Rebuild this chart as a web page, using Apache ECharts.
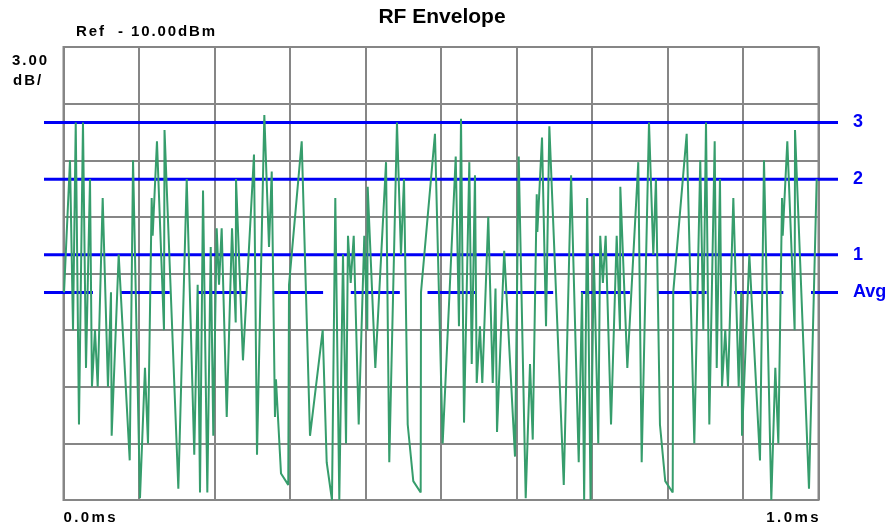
<!DOCTYPE html>
<html>
<head>
<meta charset="utf-8">
<script src="https://cdn.jsdelivr.net/npm/echarts@6/dist/echarts.min.js"></script>
<style>
html,body{margin:0;padding:0;background:#fff;}
#c{width:886px;height:527px;}
</style>
</head>
<body>
<div id="c"></div>
<script>
// ---- data (time in microseconds, level in dBm) ----
const timesUs = [
  0.7, 8.6, 12.6, 16.2, 20.5, 25.8, 29.8, 35.1, 37.7, 41.7,
  45.3, 51.9, 58.9, 62.9, 63.8, 73.1, 87.7, 92.1, 101.3, 107.9,
  111.9, 116.8, 118.1, 123.8, 133.1, 133.8, 152.1, 163.2, 173.2, 177.7,
  180.8, 184.8, 190.5, 195.0, 198.4, 202.9, 206.0, 209.5, 216.2, 223.2,
  228.1, 228.5, 237.7, 252.3, 256.3, 266.0,
  272.2, 275.8, 280.1, 281.4, 288.1, 297.7, 298.7, 315.5, 326.5, 343.3,
  348.6, 355.6, 360.0, 365.3, 370.2, 374.2, 376.8, 380.4, 384.4, 391.0,
  398.4, 402.4, 402.9, 413.0, 427.2, 431.5, 441.7, 447.0, 451.0, 455.9,
  463.3, 473.1, 473.5, 492.0, 502.2, 519.5, 523.8, 526.5, 530.5, 537.5,
  540.7, 545.0, 547.3, 551.6, 554.7, 562.6, 568.5, 572.2, 574.2, 583.7,
  598.0, 602.9, 612.2, 617.9, 621.5, 626.8, 627.6, 633.8, 639.1, 643.5,
  662.6, 672.3, 682.4, 686.8, 689.6, 693.6, 698.1, 702.4, 708.3, 710.9,
  714.4, 718.1, 725.2, 732.7, 737.1, 737.5, 746.8, 761.3, 765.8, 775.5,
  781.2, 784.7, 790.0, 797.0, 806.9, 807.6, 825.4, 835.5,
  843.4, 847.4, 851.0, 855.4, 862.5, 865.2, 869.5, 872.2, 876.5, 880.1,
  887.2, 894.3, 897.7, 898.7, 908.4, 922.5, 927.8, 937.5, 942.8, 946.8,
  951.7, 952.6, 958.7, 968.4, 968.9, 987.4, 997.6
];
const levelsDbm = [
  -23.0, -16.0, -25.0, -14.0, -30.0, -14.0, -27.0, -17.0, -28.0, -25.0,
  -28.0, -18.0, -28.0, -23.0, -30.6, -21.0, -31.9, -16.0, -33.9, -27.0,
  -31.0, -18.0, -20.0, -15.0, -25.0, -14.4, -33.4, -17.0, -31.6, -22.6,
  -33.6, -17.6, -33.6, -20.6, -30.6, -19.6, -22.6, -19.6, -29.6, -19.6,
  -24.6, -17.0, -26.6, -15.7, -31.6, -13.6,
  -20.6, -16.6, -29.6, -27.6, -32.6, -33.2, -22.6, -15.0, -30.6, -25.0,
  -32.0, -34.0, -18.0, -34.0, -21.0, -31.0, -20.0, -22.5, -20.0, -30.0,
  -20.0, -25.0, -17.4, -27.0, -16.1, -32.0, -14.0, -21.0, -17.0, -30.0,
  -33.0, -33.6, -23.0, -14.6, -31.0, -15.8, -24.8, -13.8, -29.9, -16.1,
  -26.8, -16.8, -27.8, -24.8, -27.8, -19.0, -27.8, -22.8, -30.4, -20.8,
  -31.7, -15.8, -33.9, -26.8, -30.8, -17.8, -19.8, -14.8, -24.8, -14.2,
  -33.2, -16.8, -32.0, -23.0, -34.0, -18.0, -34.0, -21.0, -31.0, -20.0,
  -22.5, -20.0, -30.0, -20.0, -25.0, -17.4, -27.0, -16.1, -32.0, -14.0,
  -21.0, -17.0, -30.0, -33.0, -33.6, -23.0, -14.6, -31.0,
  -16.0, -25.0, -14.0, -30.0, -15.0, -27.0, -17.0, -28.0, -25.0, -28.0,
  -18.0, -28.0, -23.0, -30.6, -21.0, -31.9, -16.0, -34.0, -27.0, -31.0,
  -18.0, -20.0, -15.0, -25.0, -14.4, -33.4, -17.0
];
const markerNames = ['3', '2', '1', 'Avg'];
const markerLevels = [-14, -17, -21, -23];
const xTickLabels = ['0.0ms', '1.0ms'];
const titleText = 'RF Envelope';
const refText = 'Ref  - 10.00dBm';
const scaleText = ['3.00', 'dB/'];

// ---- chart ----
const FONT = "'Liberation Sans', Arial, Helvetica, sans-serif";
const GREEN = '#369d6c';
const BLUE = '#0000f5';
const GRID = '#868686';

function spaced(str) {
  const chars = str.split('');
  return chars.map((c, i) => '{' + (i === chars.length - 1 ? 'e' : 's') + '|' + c + '}').join('');
}
function richSpaced(size, gap) {
  return {
    s: { fontSize: size, fontWeight: 'bold', fontFamily: FONT, color: '#000', padding: [0, gap, 0, 0] },
    e: { fontSize: size, fontWeight: 'bold', fontFamily: FONT, color: '#000' }
  };
}

const trace = timesUs.map((t, i) => [t, levelsDbm[i]]);

const markerSeries = markerNames.map((name, i) => ({
  name: name,
  type: 'line',
  xAxisIndex: 1,
  yAxisIndex: 1,
  data: [[0, markerLevels[i]], [1, markerLevels[i]]],
  symbol: 'none',
  silent: true,
  z: 3,
  lineStyle: { color: BLUE, width: 3, type: name === 'Avg' ? [49, 27.7] : 'solid', cap: 'butt' },
  endLabel: {
    show: true,
    formatter: name,
    distance: 15,
    color: BLUE,
    fontSize: 18,
    fontWeight: 'bold',
    fontFamily: FONT
  }
}));

const chart = echarts.init(document.getElementById('c'), null, { renderer: 'canvas' });
chart.setOption({
  animation: false,
  backgroundColor: '#ffffff',
  grid: [
    { left: 63.5, top: 47, width: 755, height: 453, show: true, borderColor: GRID, borderWidth: 2, backgroundColor: 'transparent' },
    { left: 44, top: 47, width: 794, height: 453, show: false }
  ],
  xAxis: [
    {
      gridIndex: 0, type: 'value', min: 0, max: 1000, interval: 100,
      axisLine: { show: false }, axisTick: { show: false },
      splitLine: { show: true, lineStyle: { color: GRID, width: 2 } },
      axisLabel: {
        show: true, margin: 10,
        alignMinLabel: 'left', alignMaxLabel: 'right',
        formatter: v => v === 0 ? spaced(xTickLabels[0]) : (v === 1000 ? spaced(xTickLabels[1]) : ''),
        rich: richSpaced(15, 2.4)
      }
    },
    { gridIndex: 1, type: 'value', min: 0, max: 1, show: false }
  ],
  yAxis: [
    {
      gridIndex: 0, type: 'value', min: -34, max: -10, interval: 3,
      axisLine: { show: false }, axisTick: { show: false }, axisLabel: { show: false },
      splitLine: { show: true, lineStyle: { color: GRID, width: 2 } }
    },
    { gridIndex: 1, type: 'value', min: -34, max: -10, show: false }
  ],
  graphic: [
    { type: 'text', x: 442, y: 17, style: { text: titleText, fontSize: 21, fontWeight: 'bold', fontFamily: FONT, fill: '#000', align: 'center', verticalAlign: 'middle' } },
    { type: 'text', x: 76, y: 31.5, style: { text: spaced(refText), rich: richSpaced(15, 1.9), align: 'left', verticalAlign: 'middle' } },
    { type: 'text', x: 12, y: 61, style: { text: spaced(scaleText[0]), rich: richSpaced(15, 2.0), align: 'left', verticalAlign: 'middle' } },
    { type: 'text', x: 13, y: 81, style: { text: spaced(scaleText[1]), rich: richSpaced(15, 2.0), align: 'left', verticalAlign: 'middle' } }
  ],
  series: markerSeries.concat([{
    name: 'RF Envelope',
    type: 'line',
    xAxisIndex: 0,
    yAxisIndex: 0,
    data: trace,
    symbol: 'none',
    z: 5,
    lineStyle: { color: GREEN, width: 2 }
  }])
});
</script>
</body>
</html>
